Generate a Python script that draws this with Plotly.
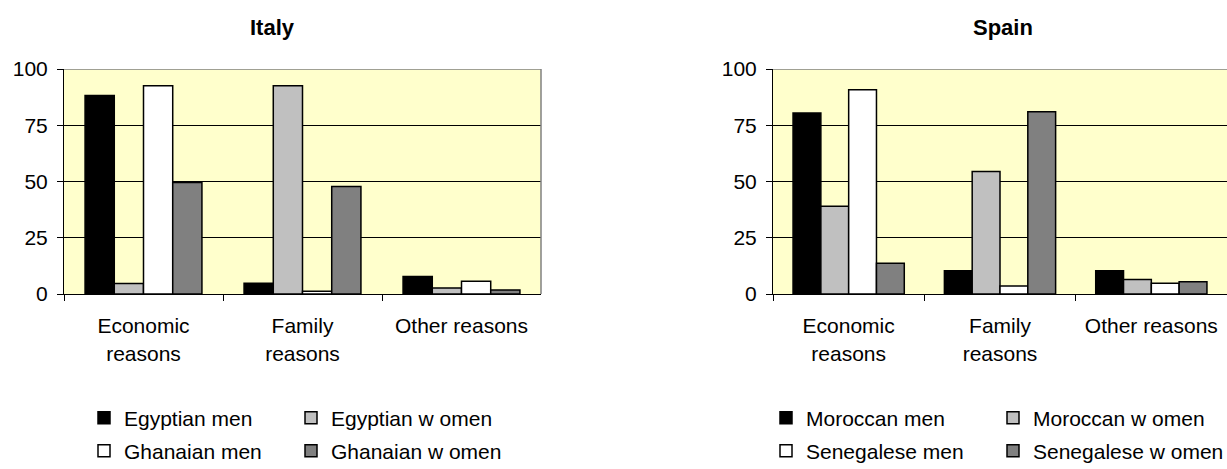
import plotly.graph_objects as go

# ---- data ----
categories = ["Economic reasons", "Family reasons", "Other reasons"]
tick_labels = ["Economic<br>reasons", "Family<br>reasons", "Other reasons"]

italy_titles = ["Egyptian men", "Egyptian w omen", "Ghanaian men", "Ghanaian w omen"]
egyptian_men = [88.2, 4.8, 7.8]
egyptian_women = [4.7, 92.6, 2.7]
ghanaian_men = [92.6, 1.2, 5.7]
ghanaian_women = [49.6, 47.8, 1.8]

spain_titles = ["Moroccan men", "Moroccan w omen", "Senegalese men", "Senegalese w omen"]
moroccan_men = [80.4, 10.3, 10.3]
moroccan_women = [39.0, 54.5, 6.4]
senegalese_men = [90.8, 3.6, 4.8]
senegalese_women = [13.7, 81.0, 5.5]

colors = ["#000000", "#C0C0C0", "#FFFFFF", "#808080"]

W, H = 1227, 469
FONT = "Arial, 'Liberation Sans', sans-serif"
FS = 21

fig = go.Figure()

italy_series = [egyptian_men, egyptian_women, ghanaian_men, ghanaian_women]
spain_series = [moroccan_men, moroccan_women, senegalese_men, senegalese_women]

legend_ids = ["legend", "legend2", "legend3", "legend4",
              "legend5", "legend6", "legend7", "legend8"]

for i, (name, vals) in enumerate(zip(italy_titles, italy_series)):
    fig.add_trace(go.Bar(x=categories, y=vals, name=name, xaxis="x", yaxis="y",
                         marker=dict(color=colors[i], line=dict(color="#000000", width=1.5)),
                         legend=legend_ids[i]))
for i, (name, vals) in enumerate(zip(spain_titles, spain_series)):
    fig.add_trace(go.Bar(x=categories, y=vals, name=name, xaxis="x2", yaxis="y2",
                         marker=dict(color=colors[i], line=dict(color="#000000", width=1.5)),
                         legend=legend_ids[4 + i]))

y0 = 1 - 294 / H
y1 = 1 - 69 / H
dom_it = [64 / W, 541 / W]
dom_sp = [773 / W, 1.0]

xaxis_common = dict(
    type="category", tickmode="array", tickvals=categories, ticktext=tick_labels,
    showline=True, linecolor="#000000", linewidth=1,
    ticks="outside", tickson="boundaries", ticklen=6, tickcolor="#000000",
    tickfont=dict(family=FONT, size=FS, color="#000000"),
    ticklabelstandoff=13, automargin=False,
    showgrid=False, zeroline=False, fixedrange=True,
)
yaxis_common = dict(
    range=[0, 100], tickmode="array", tickvals=[0, 25, 50, 75, 100],
    showline=True, linecolor="#000000", linewidth=1,
    ticks="outside", ticklen=6, tickcolor="#000000",
    tickfont=dict(family=FONT, size=FS, color="#000000"),
    ticklabelstandoff=5, automargin=False,
    showgrid=True, gridcolor="#000000", gridwidth=1, zeroline=False,
    fixedrange=True, domain=[y0, y1],
)

# (left px, row center px)
legend_pos = [
    (84, 418), (291, 418), (84, 451), (291, 451),
    (766, 418), (993, 418), (766, 451), (993, 451),
]
legends = {}
for lid, (px, py) in zip(legend_ids, legend_pos):
    legends[lid] = dict(x=px / W, y=1 - py / H, xanchor="left", yanchor="middle",
                        bgcolor="rgba(0,0,0,0)", borderwidth=0,
                        font=dict(family=FONT, size=FS, color="#000000"))

fig.update_layout(
    width=W, height=H,
    margin=dict(l=0, r=0, t=0, b=0, autoexpand=False),
    paper_bgcolor="#FFFFFF",
    plot_bgcolor="#FFFFCC",
    barmode="group", bargap=0.265, bargroupgap=0,
    xaxis=dict(domain=dom_it, anchor="y", **xaxis_common),
    yaxis=dict(anchor="x", **yaxis_common),
    xaxis2=dict(domain=dom_sp, anchor="y2", **xaxis_common),
    yaxis2=dict(anchor="x2", **yaxis_common),
    showlegend=True,
    **legends,
)

# plot-area borders (gray top and right) drawn above the grid
fig.add_shape(type="line", xref="x domain", yref="y", x0=0, x1=1, y0=100, y1=100,
              line=dict(color="#808080", width=1.5), layer="above")
fig.add_shape(type="line", xref="x domain", yref="y", x0=1, x1=1, y0=0, y1=100,
              line=dict(color="#808080", width=1.5), layer="above")
fig.add_shape(type="line", xref="x2 domain", yref="y2", x0=0, x1=1, y0=100, y1=100,
              line=dict(color="#808080", width=1.5), layer="above")

fig.add_annotation(text="<b>Italy</b>", x=272 / W, y=1 - 27 / H, xref="paper", yref="paper",
                   xanchor="center", yanchor="middle", showarrow=False,
                   font=dict(family=FONT, size=22, color="#000000"))
fig.add_annotation(text="<b>Spain</b>", x=1003 / W, y=1 - 27 / H, xref="paper", yref="paper",
                   xanchor="center", yanchor="middle", showarrow=False,
                   font=dict(family=FONT, size=22, color="#000000"))

fig.write_html("out.html", config=dict(displayModeBar=False))
